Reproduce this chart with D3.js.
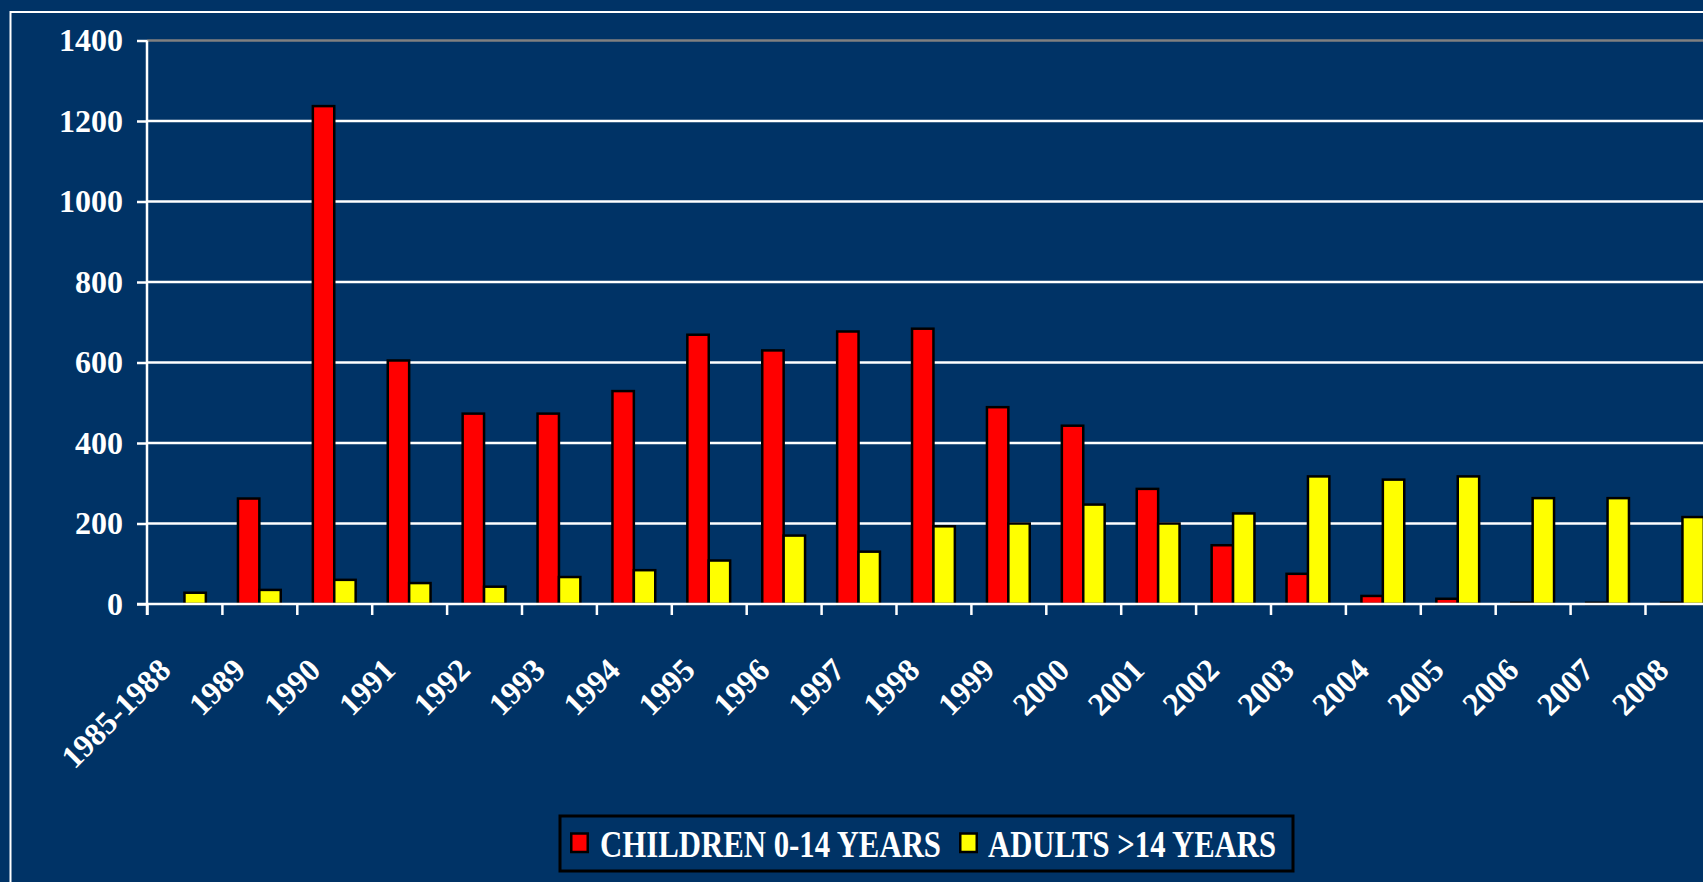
<!DOCTYPE html>
<html>
<head>
<meta charset="utf-8">
<script src="https://cdn.jsdelivr.net/npm/d3@7"></script>
<style>
  html, body { margin: 0; padding: 0; background: #003366; overflow: hidden; }
  svg { display: block; }
  text { font-family: "Liberation Serif", "Times New Roman", serif; font-weight: bold; fill: #ffffff; }
</style>
</head>
<body>
<svg id="chart" width="1703" height="882"></svg>
<script>
// Case counts per period
const categories = ["1985-1988", "1989", "1990", "1991", "1992", "1993", "1994", "1995", "1996", "1997",
  "1998", "1999", "2000", "2001", "2002", "2003", "2004", "2005", "2006", "2007", "2008"];
const children = [0, 262, 1237, 605, 473, 473, 529, 669, 630, 677, 684, 489, 443, 286, 146, 75, 20, 13, 3, 3, 3];
const adults = [28, 35, 60, 52, 43, 67, 84, 108, 170, 130, 193, 200, 247, 200, 225, 317, 309, 317, 263, 263, 216];
const yTicks = [0, 200, 400, 600, 800, 1000, 1200, 1400];
const seriesNames = ["CHILDREN 0-14 YEARS", "ADULTS >14 YEARS"];
const seriesColors = ["#ff0000", "#ffff00"];

const svg = d3.select("#chart");
const W = 1703, H = 882;

svg.append("rect").attr("width", W).attr("height", H).attr("fill", "#003366");

// outer frame
svg.append("path")
  .attr("d", `M10.5,${H + 5} V12 H${W + 5}`)
  .attr("fill", "none").attr("stroke", "#ffffff").attr("stroke-width", 2);

const left = 147, bandW = 74.9;
const right = left + categories.length * bandW;
const y0 = 604, yTop = 40.5;

const x0 = d3.scaleBand().domain(categories).range([left, right]).paddingInner(0).paddingOuter(0);
const x1 = d3.scaleBand().domain(["children", "adults"]).range([0, x0.bandwidth()]).paddingInner(0).paddingOuter(0.75);
const y = d3.scaleLinear().domain([0, 1400]).range([y0, yTop]);
const idx = d3.scaleLinear().domain([0, categories.length]).range([left, right]);

// gridlines
svg.append("g").selectAll("line")
  .data(yTicks.filter(d => d > 0))
  .join("line")
  .attr("x1", left).attr("x2", right)
  .attr("y1", d => y(d)).attr("y2", d => y(d))
  .attr("stroke", d => d === 1400 ? "#808080" : "#ffffff")
  .attr("stroke-width", 2.5);

// bars
const rows = categories.map((c, i) => ({ cat: c, children: children[i], adults: adults[i] }));
const groups = svg.append("g").selectAll("g")
  .data(rows).join("g")
  .attr("transform", d => `translate(${x0(d.cat)},0)`);

groups.selectAll("rect")
  .data(d => [{ key: "children", v: d.children, c: seriesColors[0] }, { key: "adults", v: d.adults, c: seriesColors[1] }]
    .filter(s => s.v > 0))
  .join("rect")
  .attr("x", s => x1(s.key))
  .attr("width", x1.bandwidth())
  .attr("y", s => y(s.v))
  .attr("height", s => y(0) - y(s.v))
  .attr("fill", s => s.c)
  .attr("stroke", "#000000")
  .attr("stroke-width", 2.5);

// y axis
const yAxis = svg.append("g")
  .attr("transform", `translate(${left},0)`)
  .call(d3.axisLeft(y).tickValues(yTicks).tickFormat(d3.format("d")).tickSize(10).tickPadding(14));
yAxis.select(".domain").attr("stroke", "#ffffff").attr("stroke-width", 2.5).attr("d", `M0,${yTop}V${y0 + 11}`);
yAxis.selectAll(".tick line").attr("stroke", "#ffffff").attr("stroke-width", 2.5);
yAxis.selectAll(".tick text")
  .attr("font-size", 32).attr("fill", "#ffffff")
  .style("font-family", "'Liberation Serif', 'Times New Roman', serif").style("font-weight", "bold");

// x axis boundary ticks
const xTicks = svg.append("g")
  .attr("transform", `translate(0,${y0})`)
  .call(d3.axisBottom(idx).tickValues(d3.range(categories.length + 1)).tickFormat("").tickSize(11));
xTicks.select(".domain").attr("stroke", "#ffffff").attr("stroke-width", 2.5).attr("d", `M${left - 10},0H${right}`);
xTicks.selectAll(".tick line").attr("stroke", "#ffffff").attr("stroke-width", 2.5);

// x category labels
const xLabels = svg.append("g")
  .attr("transform", `translate(0,${y0})`)
  .call(d3.axisBottom(x0).tickSize(0));
xLabels.select(".domain").remove();
xLabels.selectAll(".tick text")
  .attr("x", 0).attr("y", 0).attr("dy", 0)
  .attr("text-anchor", "end")
  .attr("transform", "translate(-12,68) rotate(-45)")
  .attr("font-size", 32).attr("fill", "#ffffff")
  .style("font-family", "'Liberation Serif', 'Times New Roman', serif").style("font-weight", "bold");

// legend
const legend = svg.append("g");
legend.append("rect")
  .attr("x", 560).attr("y", 816).attr("width", 733).attr("height", 55)
  .attr("fill", "#003366").attr("stroke", "#000000").attr("stroke-width", 3);
const legendItems = [
  { name: seriesNames[0], color: seriesColors[0], sx: 571.25, tx: 600, tw: 341 },
  { name: seriesNames[1], color: seriesColors[1], sx: 960.25, tx: 988, tw: 288 }
];
legendItems.forEach(it => {
  legend.append("rect")
    .attr("x", it.sx).attr("y", 833.5).attr("width", 16.5).attr("height", 18.5)
    .attr("fill", it.color).attr("stroke", "#000000").attr("stroke-width", 2.5);
  legend.append("text")
    .attr("x", it.tx).attr("y", 857)
    .attr("font-size", 37)
    .attr("textLength", it.tw).attr("lengthAdjust", "spacingAndGlyphs")
    .text(it.name);
});
</script>
</body>
</html>
